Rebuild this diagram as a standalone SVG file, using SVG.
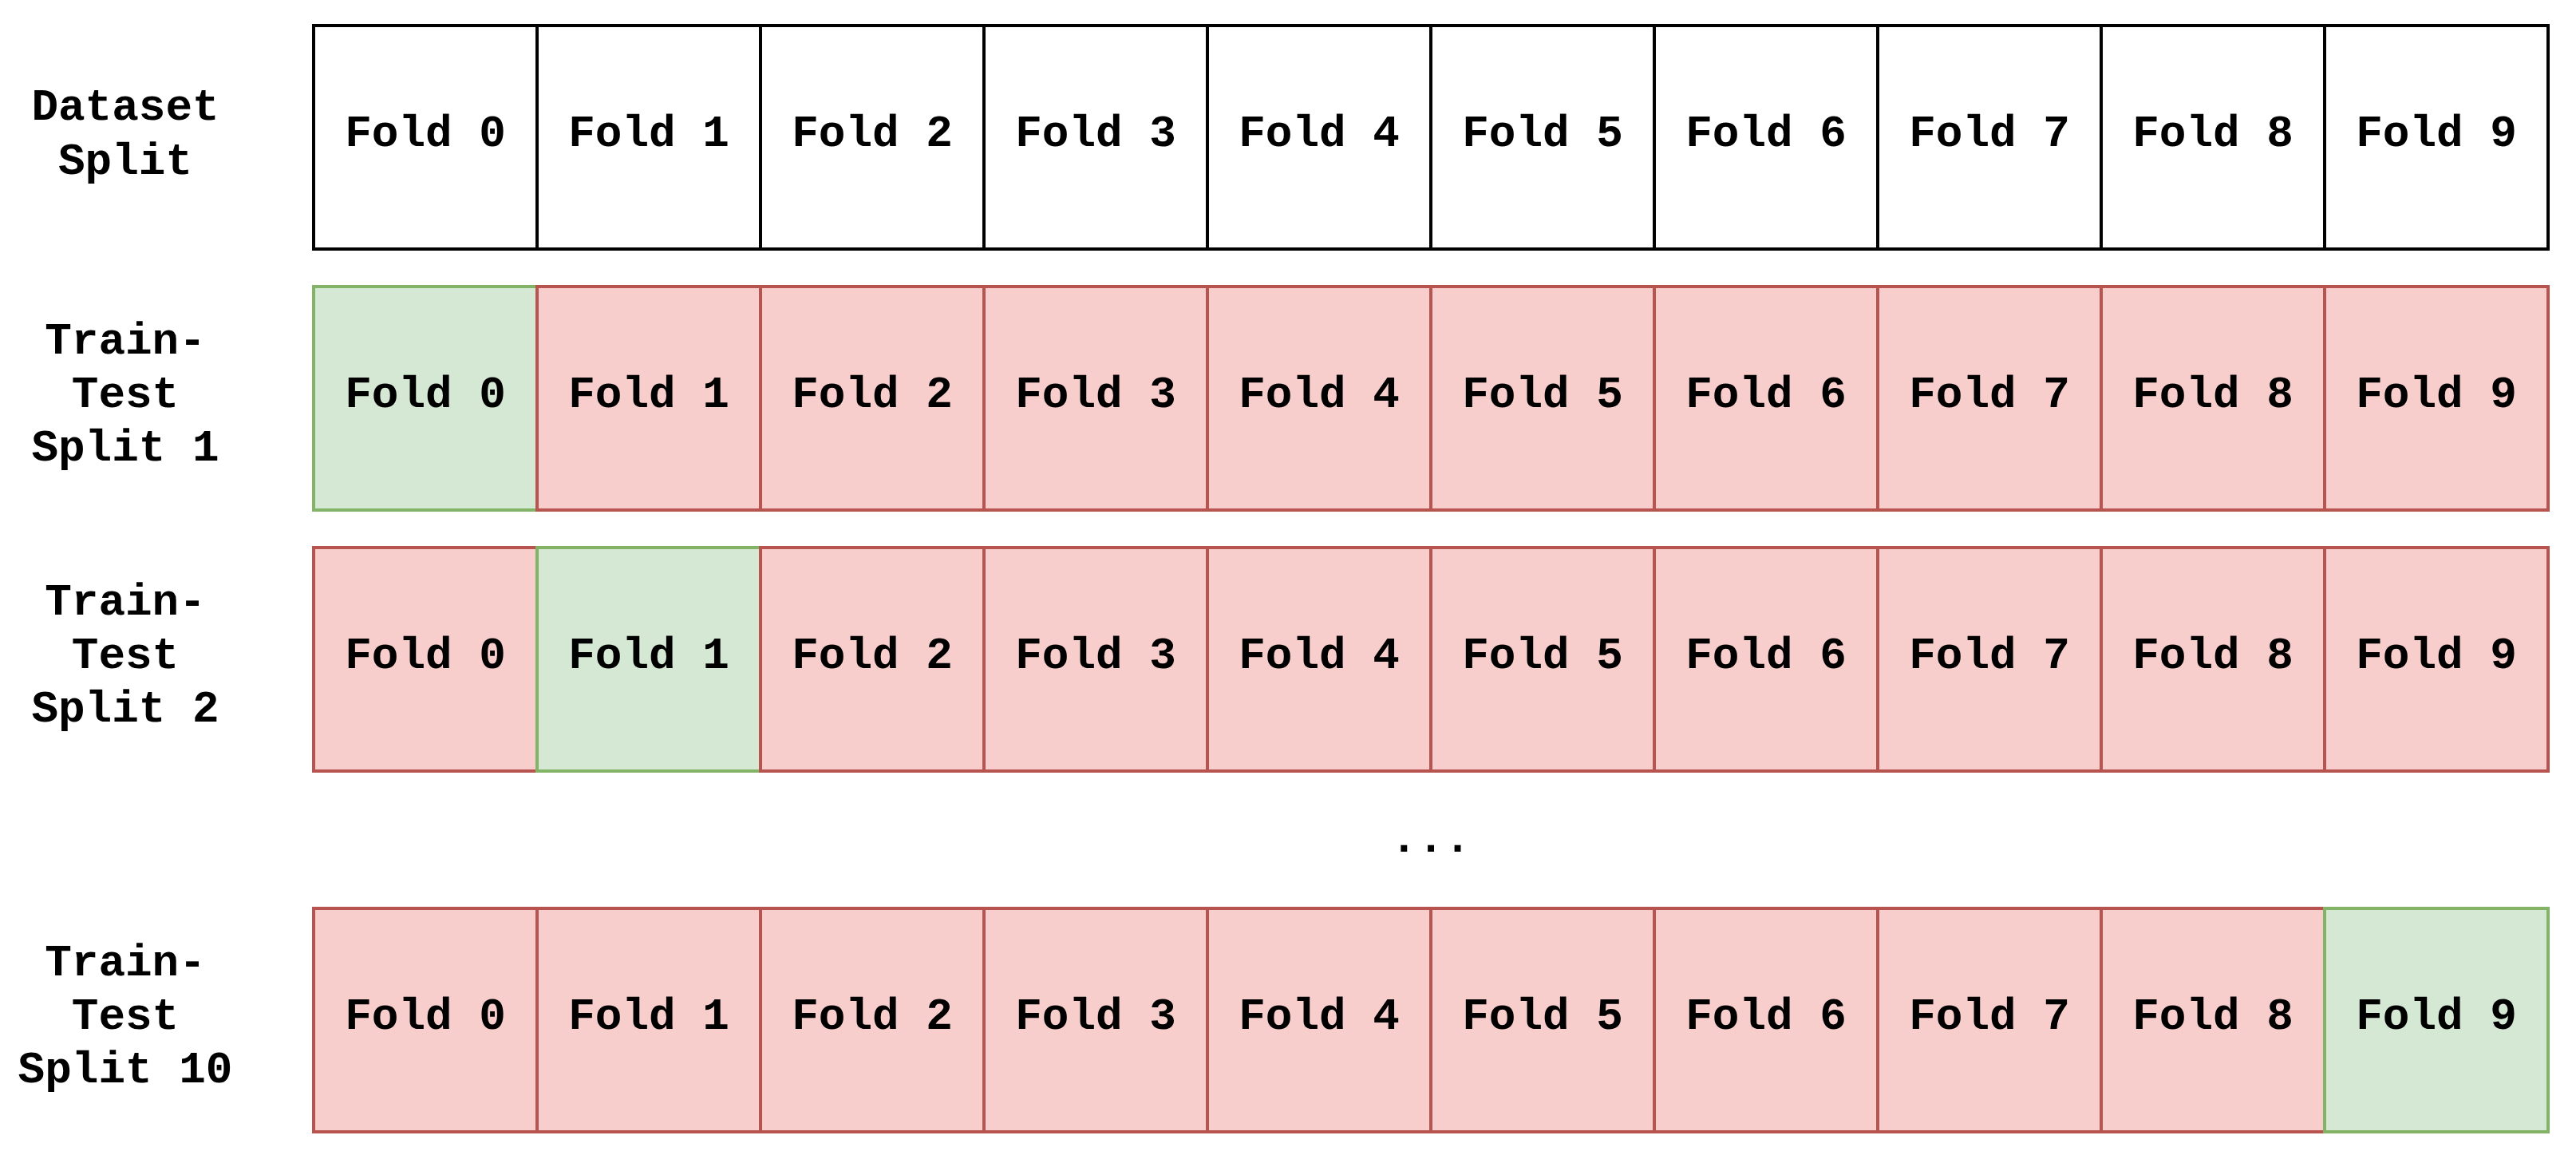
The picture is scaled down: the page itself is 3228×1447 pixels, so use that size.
<svg xmlns="http://www.w3.org/2000/svg" width="3228" height="1447" viewBox="0 0 3228 1447">
<style>
text{font-family:"Liberation Mono","Courier New",monospace;font-weight:bold;font-size:56px;fill:#000;text-anchor:middle}
.w{fill:#ffffff;stroke:#000000;stroke-width:4}
.r{fill:#f8cecc;stroke:#b85450;stroke-width:4}
.g{fill:#d5e8d4;stroke:#82b366;stroke-width:4}
</style>
<rect width="3228" height="1447" fill="#ffffff"/>
<g id="labels">
<text x="157" y="150">Dataset</text><text x="157" y="218">Split</text>
<text x="157" y="443">Train-</text><text x="157" y="510">Test</text><text x="157" y="577">Split 1</text>
<text x="157" y="770">Train-</text><text x="157" y="837">Test</text><text x="157" y="904">Split 2</text>
<text x="157" y="1222">Train-</text><text x="157" y="1289">Test</text><text x="157" y="1356">Split 10</text>
<text x="1793" y="1067">...</text>
</g>
<g id="row-dataset">
<g id="d0"><rect class="w" x="393" y="32" width="280" height="280"/><text x="533" y="183">Fold 0</text></g>
<g id="d1"><rect class="w" x="673" y="32" width="280" height="280"/><text x="813" y="183">Fold 1</text></g>
<g id="d2"><rect class="w" x="953" y="32" width="280" height="280"/><text x="1093" y="183">Fold 2</text></g>
<g id="d3"><rect class="w" x="1233" y="32" width="280" height="280"/><text x="1373" y="183">Fold 3</text></g>
<g id="d4"><rect class="w" x="1513" y="32" width="280" height="280"/><text x="1653" y="183">Fold 4</text></g>
<g id="d5"><rect class="w" x="1793" y="32" width="280" height="280"/><text x="1933" y="183">Fold 5</text></g>
<g id="d6"><rect class="w" x="2073" y="32" width="280" height="280"/><text x="2213" y="183">Fold 6</text></g>
<g id="d7"><rect class="w" x="2353" y="32" width="280" height="280"/><text x="2493" y="183">Fold 7</text></g>
<g id="d8"><rect class="w" x="2633" y="32" width="280" height="280"/><text x="2773" y="183">Fold 8</text></g>
<g id="d9"><rect class="w" x="2913" y="32" width="280" height="280"/><text x="3053" y="183">Fold 9</text></g>
</g>
<g id="row-split1">
<g id="a0"><rect class="g" x="393" y="359" width="280" height="280"/><text x="533" y="510">Fold 0</text></g>
<g id="a1"><rect class="r" x="673" y="359" width="280" height="280"/><text x="813" y="510">Fold 1</text></g>
<g id="a2"><rect class="r" x="953" y="359" width="280" height="280"/><text x="1093" y="510">Fold 2</text></g>
<g id="a3"><rect class="r" x="1233" y="359" width="280" height="280"/><text x="1373" y="510">Fold 3</text></g>
<g id="a4"><rect class="r" x="1513" y="359" width="280" height="280"/><text x="1653" y="510">Fold 4</text></g>
<g id="a5"><rect class="r" x="1793" y="359" width="280" height="280"/><text x="1933" y="510">Fold 5</text></g>
<g id="a6"><rect class="r" x="2073" y="359" width="280" height="280"/><text x="2213" y="510">Fold 6</text></g>
<g id="a7"><rect class="r" x="2353" y="359" width="280" height="280"/><text x="2493" y="510">Fold 7</text></g>
<g id="a8"><rect class="r" x="2633" y="359" width="280" height="280"/><text x="2773" y="510">Fold 8</text></g>
<g id="a9"><rect class="r" x="2913" y="359" width="280" height="280"/><text x="3053" y="510">Fold 9</text></g>
</g>
<g id="row-split2">
<g id="b0"><rect class="r" x="393" y="686" width="280" height="280"/><text x="533" y="837">Fold 0</text></g>
<g id="b1"><rect class="g" x="673" y="686" width="280" height="280"/><text x="813" y="837">Fold 1</text></g>
<g id="b2"><rect class="r" x="953" y="686" width="280" height="280"/><text x="1093" y="837">Fold 2</text></g>
<g id="b3"><rect class="r" x="1233" y="686" width="280" height="280"/><text x="1373" y="837">Fold 3</text></g>
<g id="b4"><rect class="r" x="1513" y="686" width="280" height="280"/><text x="1653" y="837">Fold 4</text></g>
<g id="b5"><rect class="r" x="1793" y="686" width="280" height="280"/><text x="1933" y="837">Fold 5</text></g>
<g id="b6"><rect class="r" x="2073" y="686" width="280" height="280"/><text x="2213" y="837">Fold 6</text></g>
<g id="b7"><rect class="r" x="2353" y="686" width="280" height="280"/><text x="2493" y="837">Fold 7</text></g>
<g id="b8"><rect class="r" x="2633" y="686" width="280" height="280"/><text x="2773" y="837">Fold 8</text></g>
<g id="b9"><rect class="r" x="2913" y="686" width="280" height="280"/><text x="3053" y="837">Fold 9</text></g>
</g>
<g id="row-split10">
<g id="c0"><rect class="r" x="393" y="1138" width="280" height="280"/><text x="533" y="1289">Fold 0</text></g>
<g id="c1"><rect class="r" x="673" y="1138" width="280" height="280"/><text x="813" y="1289">Fold 1</text></g>
<g id="c2"><rect class="r" x="953" y="1138" width="280" height="280"/><text x="1093" y="1289">Fold 2</text></g>
<g id="c3"><rect class="r" x="1233" y="1138" width="280" height="280"/><text x="1373" y="1289">Fold 3</text></g>
<g id="c4"><rect class="r" x="1513" y="1138" width="280" height="280"/><text x="1653" y="1289">Fold 4</text></g>
<g id="c5"><rect class="r" x="1793" y="1138" width="280" height="280"/><text x="1933" y="1289">Fold 5</text></g>
<g id="c6"><rect class="r" x="2073" y="1138" width="280" height="280"/><text x="2213" y="1289">Fold 6</text></g>
<g id="c7"><rect class="r" x="2353" y="1138" width="280" height="280"/><text x="2493" y="1289">Fold 7</text></g>
<g id="c8"><rect class="r" x="2633" y="1138" width="280" height="280"/><text x="2773" y="1289">Fold 8</text></g>
<g id="c9"><rect class="g" x="2913" y="1138" width="280" height="280"/><text x="3053" y="1289">Fold 9</text></g>
</g>
<g id="connectors"/>
</svg>
